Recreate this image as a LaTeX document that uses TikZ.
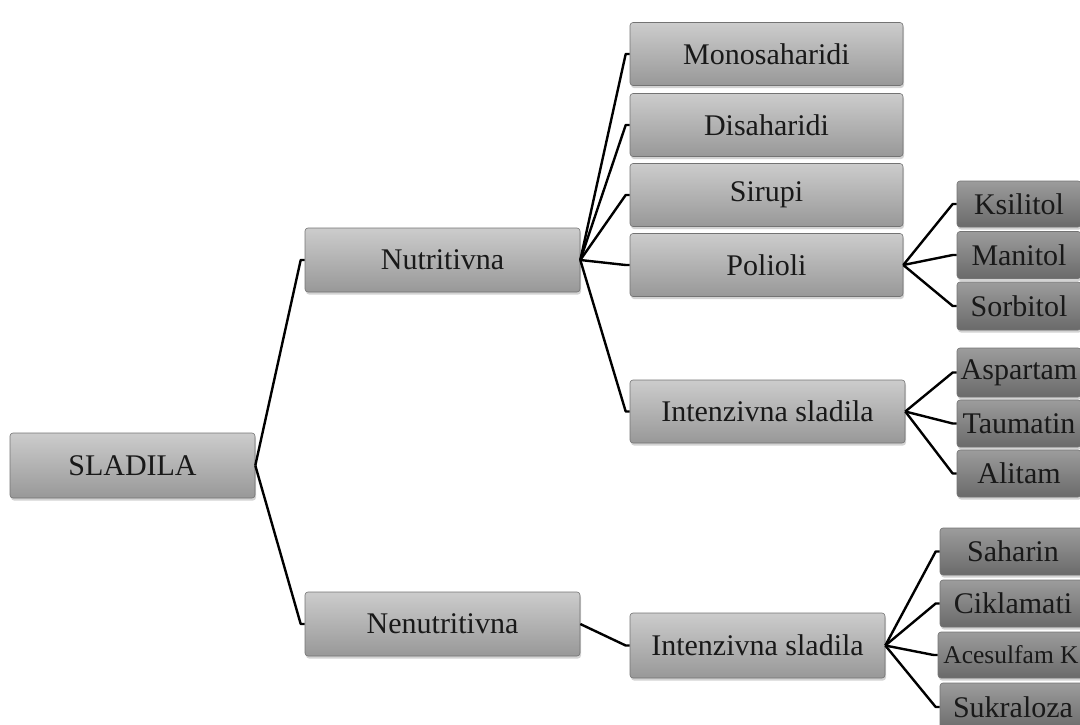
\documentclass[tikz,border=0pt]{standalone}
\usepackage{fontspec}
\setmainfont{Liberation Serif}
\usetikzlibrary{shadows,calc}
\definecolor{ltop}{RGB}{204,204,204}
\definecolor{lbot}{RGB}{152,152,152}
\definecolor{dtop}{RGB}{156,156,156}
\definecolor{dbot}{RGB}{106,106,106}
\definecolor{edge}{RGB}{115,115,115}
\definecolor{ink}{RGB}{25,25,25}
\begin{document}
\begin{tikzpicture}[x=1pt,y=-1pt,
  box/.style={draw=edge, line width=0.6pt, rounded corners=3pt, inner sep=0pt,
    drop shadow={shadow xshift=1pt, shadow yshift=-2.5pt, opacity=0.35},
    text=ink, font=\fontsize{30}{34}\selectfont},
  lbox/.style={box, top color=ltop, bottom color=lbot},
  dbox/.style={box, top color=dtop, bottom color=dbot},
  link/.style={line width=2.4pt, black, line join=round}
]
\useasboundingbox (0,0) rectangle (1080,724);
\clip (0,0) rectangle (1080,724);
% level 0
\node[lbox, minimum width=245pt, minimum height=65pt] (sl) at (132.5,465.5) {SLADILA};
% level 1
\node[lbox, minimum width=275pt, minimum height=64pt] (nut) at (442.5,260) {Nutritivna};
\node[lbox, minimum width=275pt, minimum height=64pt] (nen) at (442.5,624) {Nenutritivna};
% level 2
\node[lbox, minimum width=273pt, minimum height=63pt] (mono) at (766.5,54) {Monosaharidi};
\node[lbox, minimum width=273pt, minimum height=63pt] (dis) at (766.5,125) {Disaharidi};
\node[lbox, minimum width=273pt, minimum height=63pt] (sir) at (766.5,195) {Sirupi};
\node[lbox, minimum width=273pt, minimum height=63pt] (pol) at (766.5,265) {Polioli};
\node[lbox, minimum width=275pt, minimum height=63pt] (inta) at (767.5,411.5) {Intenzivna sladila};
\node[lbox, minimum width=255pt, minimum height=65pt] (intb) at (757.5,645.5) {Intenzivna sladila};
% level 3
\node[dbox, minimum width=124pt, minimum height=46pt] (ksi) at (1019,204) {Ksilitol};
\node[dbox, minimum width=124pt, minimum height=47pt] (man) at (1019,255) {Manitol};
\node[dbox, minimum width=124pt, minimum height=48pt] (sor) at (1019,306) {Sorbitol};
\node[dbox, minimum width=124pt, minimum height=49pt] (asp) at (1019,372.5) {Aspartam};
\node[dbox, minimum width=124pt, minimum height=47pt] (tau) at (1019,423.5) {Taumatin};
\node[dbox, minimum width=124pt, minimum height=47pt] (ali) at (1019,473.5) {Alitam};
\node[dbox, minimum width=146pt, minimum height=47pt] (sah) at (1013,551.5) {Saharin};
\node[dbox, minimum width=146pt, minimum height=47pt] (cik) at (1013,603.5) {Ciklamati};
\node[dbox, minimum width=146pt, minimum height=46pt, font=\fontsize{25.5}{30}\selectfont] (ace) at (1011,655) {Acesulfam K};
\node[dbox, minimum width=146pt, minimum height=48pt] (suk) at (1013,707) {Sukraloza};
% connectors
\foreach \p/\c in {sl/nut, sl/nen, nut/mono, nut/dis, nut/sir, nut/pol, nut/inta,
  pol/ksi, pol/man, pol/sor, inta/asp, inta/tau, inta/ali, nen/intb,
  intb/sah, intb/cik, intb/ace, intb/suk}
  \draw[link] (\p.east) -- ([xshift=-4pt]\c.west) -- (\c.west);
\end{tikzpicture}
\end{document}
